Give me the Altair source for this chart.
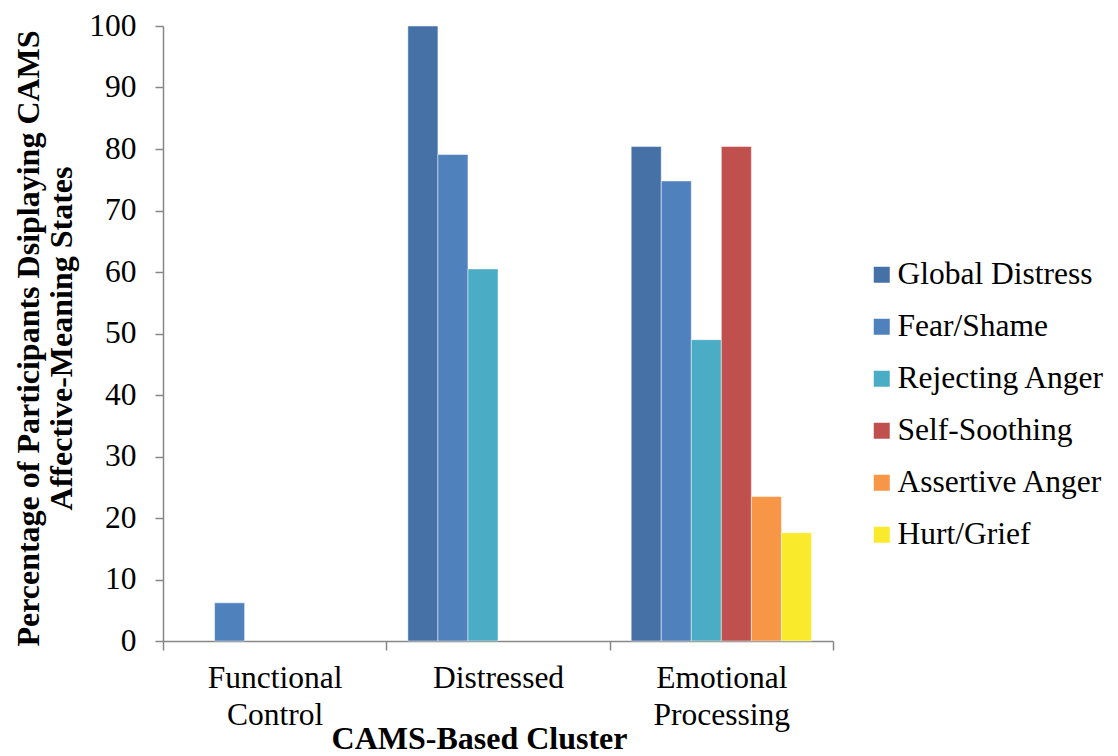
import altair as alt
import pandas as pd

categories = ["Functional Control", "Distressed", "Emotional Processing"]
series = ["Global Distress", "Fear/Shame", "Rejecting Anger", "Self-Soothing", "Assertive Anger", "Hurt/Grief"]
colors = ["#4571a7", "#4f81bd", "#4bacc6", "#c0504d", "#f79646", "#f9eb2b"]

global_distress = [None, 100.0, 80.4]
fear_shame = [6.2, 79.1, 74.8]
rejecting_anger = [None, 60.5, 49.0]
self_soothing = [None, None, 80.4]
assertive_anger = [None, None, 23.5]
hurt_grief = [None, None, 17.6]

values = [global_distress, fear_shame, rejecting_anger, self_soothing, assertive_anger, hurt_grief]
rows = []
for s, vals in zip(series, values):
    for c, v in zip(categories, vals):
        if v is not None:
            rows.append({"cluster": c, "state": s, "pct": v})
df = pd.DataFrame(rows)

FONT = "Liberation Serif"
LFS = 31.5
TFS = 32

chart = alt.Chart(df).mark_bar(stroke="white", strokeWidth=0.8, strokeOpacity=0.6).encode(
    x=alt.X("cluster:N", sort=categories,
            scale=alt.Scale(domain=categories, paddingInner=0, paddingOuter=0),
            axis=alt.Axis(title="CAMS-Based Cluster", labelAngle=0,
                          labelExpr="datum.value ? split(datum.value, ' ') : ''",
                          labelFont=FONT, labelFontSize=LFS, labelColor="black",
                          labelLineHeight=37, labelPadding=12,
                          tickBand="extent", tickSize=9, tickColor="#878787",
                          domainColor="#878787", domainWidth=1.5, tickWidth=1.5,
                          titleFont=FONT, titleFontSize=TFS, titleFontWeight="bold",
                          titleColor="black", titleX=316, titleY=107,
                          titleBaseline="alphabetic", titleAlign="center")),
    xOffset=alt.XOffset("state:N", sort=series,
                        scale=alt.Scale(domain=series, paddingInner=0, paddingOuter=0.717)),
    y=alt.Y("pct:Q", scale=alt.Scale(domain=[0, 100], nice=False),
            axis=alt.Axis(title=["Percentage of Participants Dsiplaying CAMS", "Affective-Meaning States"],
                          values=list(range(0, 101, 10)), grid=False,
                          labelFont=FONT, labelFontSize=LFS, labelColor="black",
                          labelPadding=19, tickSize=8, tickColor="#878787",
                          domainColor="#878787", domainWidth=1.5, tickWidth=1.5,
                          titleFont=FONT, titleFontSize=TFS, titleFontWeight="bold",
                          titleColor="black", titleX=-150, titleY=312,
                          titleBaseline="top", titleAlign="center", titleAngle=-90,
                          titleLineHeight=33)),
    color=alt.Color("state:N", sort=series,
                    scale=alt.Scale(domain=series, range=colors),
                    legend=alt.Legend(title=None, orient="none", legendX=703, legendY=233,
                                      symbolType="square", symbolSize=256,
                                      symbolStrokeWidth=0,
                                      labelFont=FONT, labelFontSize=LFS, labelColor="black",
                                      labelOffset=0, rowPadding=19, labelLimit=400)),
).properties(
    width=670, height=615,
    autosize=alt.AutoSizeParams(type="none"),
    padding={"left": 155, "top": 18, "right": 277, "bottom": 114},
).configure_view(stroke=None)

chart.save("out.html", embed_options={"renderer": "svg", "actions": False})
